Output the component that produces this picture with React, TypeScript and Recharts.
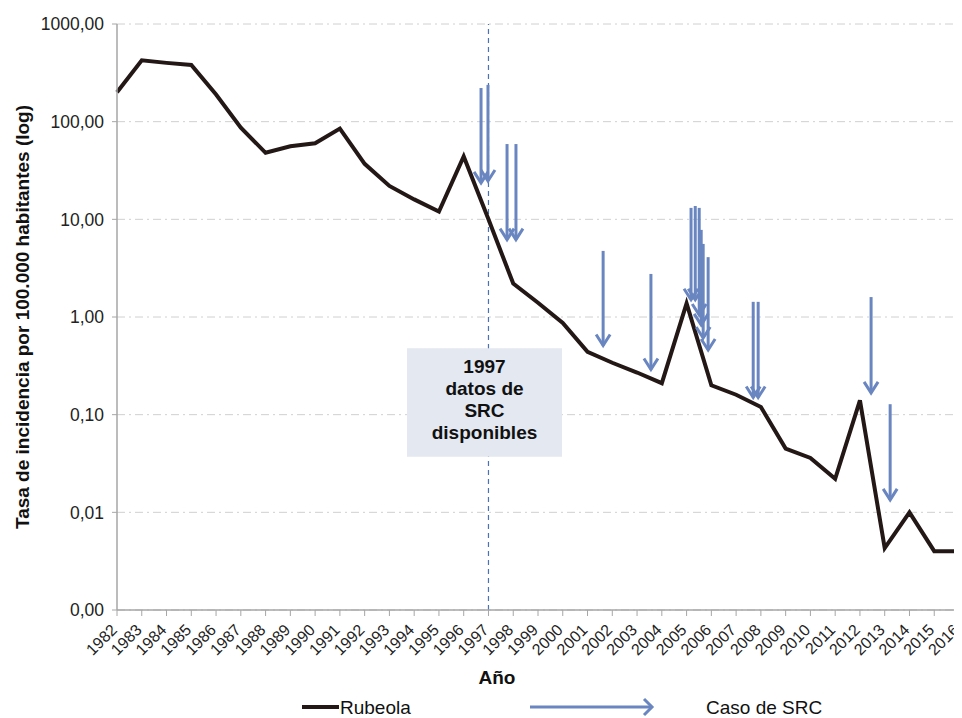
import { LineChart, Line, XAxis, YAxis, CartesianGrid, ReferenceLine, ReferenceArea, Legend, Label } from 'recharts';

const years = [
  1982, 1983, 1984, 1985, 1986, 1987, 1988, 1989, 1990, 1991, 1992, 1993,
  1994, 1995, 1996, 1997, 1998, 1999, 2000, 2001, 2002, 2003, 2004, 2005,
  2006, 2007, 2008, 2009, 2010, 2011, 2012, 2013, 2014, 2015, 2016,
];
const rubeola = [
  200, 425, 400, 380, 190, 87, 48, 56, 60, 85, 37, 22,
  16, 12, 44, 10, 2.2, 1.4, 0.87, 0.44, 0.34, 0.27, 0.21, 1.38,
  0.2, 0.16, 0.12, 0.045, 0.036, 0.022, 0.14, 0.0043, 0.01, 0.004, 0.004,
];

// SRC cases: arrow position (year) and the value range it spans
const srcYears = [1996.7, 1996.98, 1997.75, 1998.11, 2001.63, 2003.56, 2005.18, 2005.35, 2005.51, 2005.59, 2005.67, 2005.87, 2007.69, 2007.89, 2012.45, 2013.22];
const srcFrom = [221, 238, 59, 59, 4.75, 2.76, 13.1, 13.7, 13.1, 7.8, 5.6, 4.1, 1.43, 1.43, 1.6, 0.128];
const srcTo = [23.6, 24.7, 6.2, 6.2, 0.51, 0.29, 1.5, 1.5, 1.05, 0.83, 0.61, 0.46, 0.15, 0.15, 0.167, 0.0134];

const yTicks = [0.001, 0.01, 0.1, 1, 10, 100, 1000];
const yTickLabels = ['0,00', '0,01', '0,10', '1,00', '10,00', '100,00', '1000,00'];

const boxLines = ['1997', 'datos de', 'SRC', 'disponibles'];

const data = years.map((year, i) => ({ year, rubeola: rubeola[i] }));

const LINE = '#231815';
const BLUE = '#6a86c1';
const AXIS = '#a6a6a6';

function ArrowShape(props: any) {
  const { x1, y1, x2, y2 } = props;
  return (
    <g>
      <line x1={x1} y1={y1} x2={x2} y2={y2} stroke={BLUE} strokeWidth={3} />
      <polyline
        points={`${x2 - 7},${y2 - 11} ${x2},${y2} ${x2 + 7},${y2 - 11}`}
        fill="none"
        stroke={BLUE}
        strokeWidth={3}
      />
    </g>
  );
}

function XTick({ x, y, payload }: any) {
  const ax = x + 1;
  const ay = y + 13;
  return (
    <text
      x={ax}
      y={ay}
      transform={`rotate(-45 ${ax} ${ay})`}
      textAnchor="end"
      fontSize={16}
      fontFamily='"Liberation Sans Narrow", "Liberation Sans", Arial, sans-serif'
      fill="#222"
    >
      {payload.value}
    </text>
  );
}

function YLabel({ viewBox }: any) {
  const cx = 14;
  const cy = viewBox.y + viewBox.height / 2;
  return (
    <text x={cx} y={cy} transform={`rotate(-90 ${cx} ${cy})`} textAnchor="middle" dominantBaseline="central" fontSize={19} fontWeight="bold" fill="#111">
      Tasa de incidencia por 100.000 habitantes (log)
    </text>
  );
}

function XLabel() {
  return (
    <text x={489} y={676} textAnchor="middle" fontSize={19} fontWeight="bold" fill="#111">
      Año
    </text>
  );
}

function BoxLabel({ viewBox }: any) {
  const cx = viewBox.x + viewBox.width / 2;
  const y0 = viewBox.y + 25;
  return (
    <text textAnchor="middle" fontSize={19} fontWeight="bold" fill="#111">
      {boxLines.map((t, i) => (
        <tspan key={t} x={cx} y={y0 + i * 22}>{t}</tspan>
      ))}
    </text>
  );
}

function LegendContent() {
  return (
    <svg width={954} height={26}>
      <line x1={294} x2={331} y1={15} y2={15} stroke={LINE} strokeWidth={4} />
      <text x={332} y={22} fontSize={19} fill="#111">Rubeola</text>
      <line x1={522} x2={644} y1={15} y2={15} stroke={BLUE} strokeWidth={3} />
      <polyline points="636,7 644,15 636,23" fill="none" stroke={BLUE} strokeWidth={3} />
      <text x={698} y={22} fontSize={19} fill="#111">Caso de SRC</text>
    </svg>
  );
}

export default function App() {
  return (
    <div style={{ fontFamily: '"Liberation Sans", Arial, sans-serif', width: 954, height: 710 }}>
      <LineChart width={954} height={710} data={data} margin={{ top: 16, right: 3, left: 0, bottom: 0 }}>
        <CartesianGrid vertical={false} stroke="#d0d0d0" strokeDasharray="8 4 2 4" />
        <XAxis
          dataKey="year"
          type="number"
          domain={[1982, 2016]}
          ticks={years}
          interval={0}
          height={108}
          tick={<XTick />}
          tickSize={6}
          stroke={AXIS}
          axisLine={{ stroke: AXIS, strokeWidth: 1.5 }}
          tickLine={{ stroke: AXIS }}
        >
          <Label content={<XLabel />} />
        </XAxis>
        <YAxis
          scale="log"
          domain={[0.001, 1000]}
          ticks={yTicks}
          allowDataOverflow
          width={109}
          tickFormatter={(v: number) => yTickLabels[yTicks.indexOf(v)] ?? ''}
          tick={{ fontSize: 17.5, fill: '#222' }}
          tickSize={5}
          tickMargin={8}
          axisLine={{ stroke: AXIS, strokeWidth: 1.5 }}
          tickLine={{ stroke: AXIS }}
        >
          <Label content={<YLabel />} />
        </YAxis>
        <ReferenceLine x={1997} stroke="#4a72b8" strokeDasharray="5 4" strokeWidth={1.2} />
        <ReferenceArea
          x1={1993.71}
          x2={1999.97}
          y1={0.037}
          y2={0.48}
          fill="#e3e8f1"
          fillOpacity={1}
          stroke="none"
          zIndex={450}
          label={<BoxLabel />}
        />
        <Line
          type="linear"
          dataKey="rubeola"
          name="Rubeola"
          stroke={LINE}
          strokeWidth={4}
          dot={false}
          isAnimationActive={false}
        />
        {srcYears.map((yr, i) => (
          <ReferenceLine
            key={i}
            segment={[{ x: yr, y: srcFrom[i] }, { x: yr, y: srcTo[i] }]}
            ifOverflow="visible"
            zIndex={450}
            shape={<ArrowShape />}
          />
        ))}
        <Legend
          layout="horizontal"
          verticalAlign="middle"
          align="center"
          content={<LegendContent />}
          wrapperStyle={{ top: 684, left: 0, width: 954, height: 26 }}
        />
      </LineChart>
    </div>
  );
}
